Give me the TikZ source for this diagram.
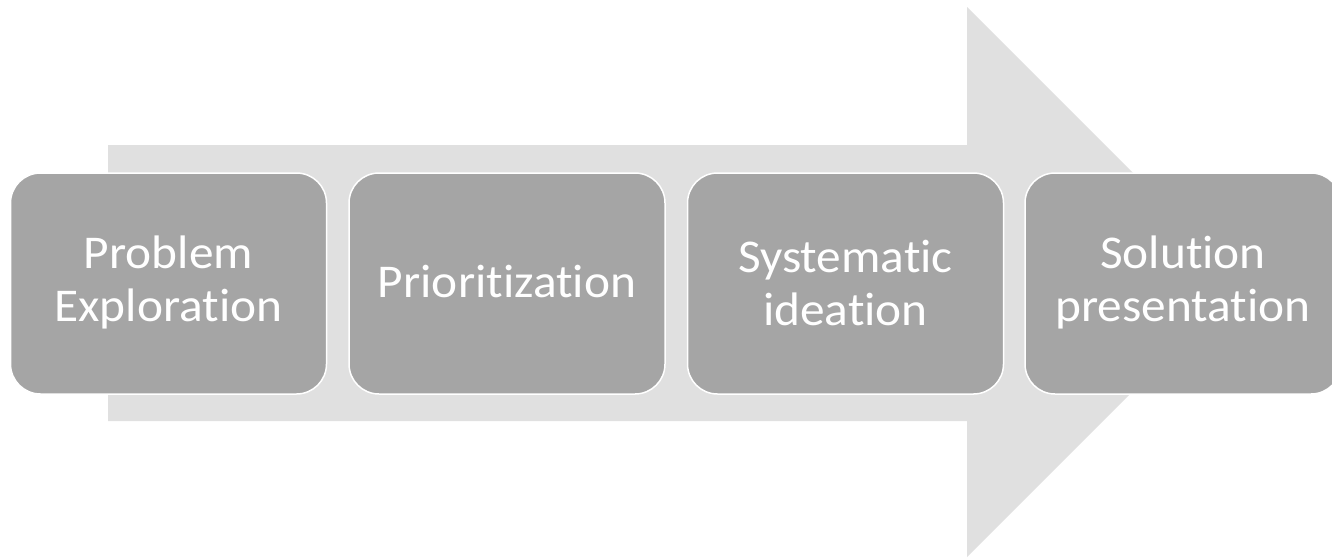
\documentclass[tikz,border=0pt]{standalone}
\usepackage{fontspec}
\setmainfont[Ligatures={NoCommon}, FakeStretch=1.05]{Carlito}
\definecolor{arrowgray}{HTML}{E0E0E0}
\definecolor{boxgray}{HTML}{A5A5A5}
\tikzset{
  stagebox/.style={draw=white, line width=1.5pt, fill=boxgray, rounded corners=30pt,
    minimum width=316pt, minimum height=221pt, inner sep=0pt},
  stagetext/.style={text=white, align=center, font=\fontsize{47pt}{53pt}\selectfont, inner sep=0pt}
}
\begin{document}
\begin{tikzpicture}[x=1pt,y=-1pt]
\useasboundingbox (0,0) rectangle (1332,558);
\clip (0,0) rectangle (1332,558);
\fill[white] (0,0) rectangle (1332,558);
% big arrow
\fill[arrowgray] (108,145) -- (967,145) -- (967,7) -- (1242,282) -- (967,557) -- (967,421) -- (108,421) -- cycle;
% boxes
\node[stagebox] (b1) at (168.5,283.5) {};
\node[stagebox] (b2) at (507,283.5) {};
\node[stagebox] (b3) at (845.5,283.5) {};
\node[stagebox] (b4) at (1183,283.5) {};
\node[stagetext] (t1) at ([yshift=1pt]b1.center) {Problem\\Exploration};
\node[stagetext] (t2) at ([yshift=2pt]b2.center) {Prioritization};
\node[stagetext] (t3) at ([yshift=1pt]b3.center) {Systematic\\ideation};
\node[stagetext] (t4) at ([yshift=1pt]b4.center) {Solution\\presentation};
\end{tikzpicture}
\end{document}
